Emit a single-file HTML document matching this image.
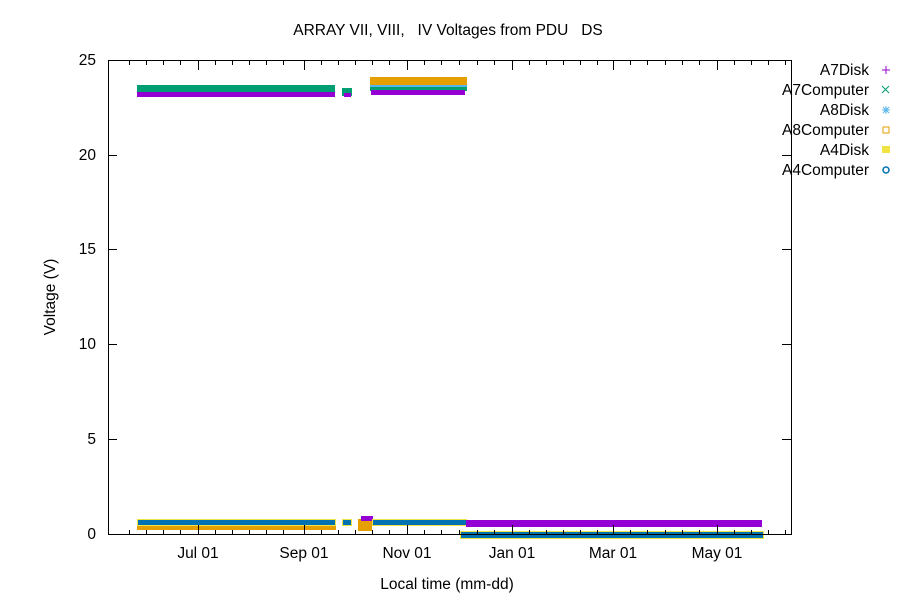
<!DOCTYPE html>
<html><head><meta charset="utf-8"><style>body{margin:0;background:#fff}svg{display:block}text{font-family:"Liberation Sans",sans-serif;font-size:15.5px;fill:#000;white-space:pre}</style></head><body>
<svg width="900" height="600" viewBox="0 0 900 600" xmlns="http://www.w3.org/2000/svg">
<rect width="900" height="600" fill="#fff"/>
<text x="448" y="35" text-anchor="middle" xml:space="preserve">ARRAY VII, VIII,   IV Voltages from PDU   DS</text>
<rect x="137" y="91" width="198" height="6" fill="#9400d3"/>
<rect x="137" y="85" width="198" height="7" fill="#009e73"/>
<rect x="342" y="88" width="10" height="8" fill="#009e73"/>
<rect x="344" y="93" width="7" height="4" fill="#9400d3"/>
<rect x="370" y="77" width="97" height="9" fill="#e69f00"/>
<rect x="370" y="85" width="97" height="3" fill="#56b4e9"/>
<rect x="370" y="87" width="97" height="4" fill="#009e73"/>
<rect x="371" y="90" width="94" height="5" fill="#9400d3"/>
<rect x="137" y="522" width="199" height="8" fill="#e69f00"/>
<rect x="137" y="519" width="199" height="7" fill="#f0e442"/>
<rect x="138" y="520" width="197" height="5" fill="#0072b2"/>
<rect x="342" y="519" width="10" height="7" fill="#f0e442"/>
<rect x="343" y="520" width="8" height="5" fill="#0072b2"/>
<rect x="358" y="519" width="14" height="12" fill="#e69f00"/>
<rect x="361" y="516" width="12" height="5" fill="#9400d3"/>
<rect x="372" y="519" width="95" height="7" fill="#f0e442"/>
<rect x="373" y="520" width="93" height="5" fill="#0072b2"/>
<rect x="466" y="520" width="296" height="7" fill="#9400d3"/>
<rect x="460" y="531" width="304" height="8" fill="#f0e442"/>
<rect x="461" y="532" width="302" height="6" fill="#0072b2"/>
<rect x="108.5" y="60.5" width="683" height="474" fill="none" stroke="#000" stroke-width="1"/>
<g stroke="#000" stroke-width="1">
<path d="M108 534.5h9M108 439.5h9M108 344.5h9M108 249.5h9M108 155.5h9M108 60.5h9M791 534.5h-9M791 439.5h-9M791 344.5h-9M791 249.5h-9M791 155.5h-9"/>
<path d="M198.5 534v-9M304.5 534v-9M407.5 534v-9M512.5 534v-9M613.5 534v-9M717.5 534v-9M198.5 61v9M304.5 61v9M407.5 61v9M512.5 61v9M613.5 61v9M717.5 61v9"/>
<path d="M129.5 534v-4M146.5 534v-4M163.5 534v-4M180.5 534v-4M215.5 534v-4M232.5 534v-4M249.5 534v-4M266.5 534v-4M283.5 534v-4M321.5 534v-4M338.5 534v-4M355.5 534v-4M372.5 534v-4M389.5 534v-4M424.5 534v-4M441.5 534v-4M459.5 534v-4M477.5 534v-4M494.5 534v-4M529.5 534v-4M546.5 534v-4M563.5 534v-4M580.5 534v-4M597.5 534v-4M630.5 534v-4M647.5 534v-4M665.5 534v-4M682.5 534v-4M699.5 534v-4M734.5 534v-4M751.5 534v-4M768.5 534v-4M785.5 534v-4"/>
<path d="M129.5 61v4M146.5 61v4M163.5 61v4M180.5 61v4M215.5 61v4M232.5 61v4M249.5 61v4M266.5 61v4M283.5 61v4M321.5 61v4M338.5 61v4M355.5 61v4M372.5 61v4M389.5 61v4M424.5 61v4M441.5 61v4M459.5 61v4M477.5 61v4M494.5 61v4M529.5 61v4M546.5 61v4M563.5 61v4M580.5 61v4M597.5 61v4M630.5 61v4M647.5 61v4M665.5 61v4M682.5 61v4M699.5 61v4M734.5 61v4M751.5 61v4M768.5 61v4M785.5 61v4"/>
</g>
<g text-anchor="end">
<text x="96" y="539">0</text><text x="96" y="444">5</text><text x="96" y="349">10</text><text x="96" y="254">15</text><text x="96" y="160">20</text><text x="96" y="65">25</text>
</g>
<g text-anchor="middle">
<text x="198" y="558">Jul 01</text><text x="304" y="558">Sep 01</text><text x="407" y="558">Nov 01</text><text x="512" y="558">Jan 01</text><text x="613" y="558">Mar 01</text><text x="717" y="558">May 01</text>
<text x="447" y="589">Local time (mm-dd)</text>
</g>
<text transform="translate(55 297) rotate(-90)" text-anchor="middle">Voltage (V)</text>
<g text-anchor="end">
<text x="869" y="75">A7Disk</text><text x="869" y="95">A7Computer</text><text x="869" y="115">A8Disk</text><text x="869" y="135">A8Computer</text><text x="869" y="155">A4Disk</text><text x="869" y="175">A4Computer</text>
</g>
<path d="M882 70h8M886 66v8" stroke="#9400d3"/>
<path d="M882 86l7 7M889 86l-7 7" stroke="#009e73"/>
<path d="M882 110h8M886 106v8M883 107l6 6M889 107l-6 6" stroke="#56b4e9"/>
<rect x="883" y="127" width="6" height="6" fill="none" stroke="#e69f00"/>
<rect x="882" y="146" width="8" height="7" fill="#f0e442"/>
<circle cx="886" cy="170" r="3" fill="none" stroke="#0072b2" stroke-width="1.5"/>
</svg>
</body></html>
